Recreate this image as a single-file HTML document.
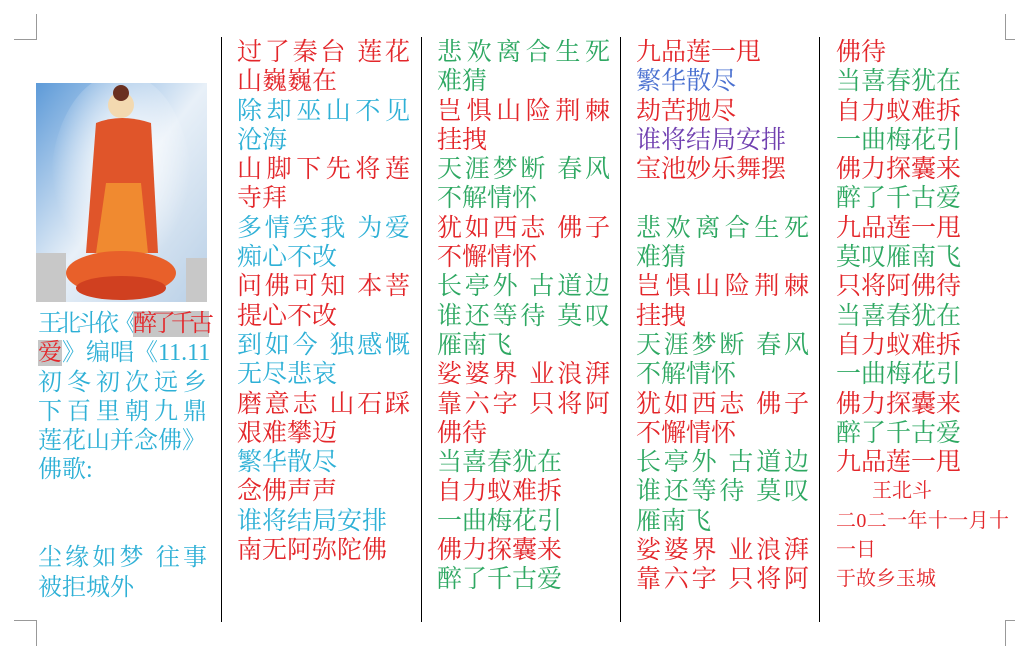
<!DOCTYPE html>
<html><head><meta charset="utf-8"><style>
body{margin:0;width:1015px;height:656px;background:#fff;position:relative;overflow:hidden;font-family:"Liberation Serif","Noto Serif CJK SC",serif;}
.col{position:absolute;top:38px;font-size:25px;line-height:29.3px;}
.col div{white-space:nowrap;height:29.3px;}
.j{text-align-last:justify;}
.r{color:#e3262a}.g{color:#2ea862}.b{color:#2eb0d6}.p{color:#7040b0}
.vl{position:absolute;top:37px;height:585px;width:1px;background:#000;}
.cm{position:absolute;border-color:#999;border-style:solid;width:22px;height:25px;}
</style></head><body>
<div class="cm" style="left:14px;top:14px;border-width:0 1px 1px 0;"></div>
<div class="cm" style="left:14px;top:620px;border-width:1px 1px 0 0;"></div>
<div class="cm" style="left:1005px;top:14px;border-width:0 0 1px 1px;"></div>
<div class="cm" style="left:1005px;top:620px;border-width:1px 0 0 1px;"></div>
<div class="vl" style="left:221px"></div>
<div class="vl" style="left:421px"></div>
<div class="vl" style="left:620px"></div>
<div class="vl" style="left:819px"></div>

<svg style="position:absolute;left:36px;top:83px" width="171" height="219">
<defs><linearGradient id="sk" x1="0" y1="0" x2="1" y2="1"><stop offset="0" stop-color="#5d9ad8"/><stop offset=".5" stop-color="#e8f0f8"/><stop offset="1" stop-color="#b8cfe6"/></linearGradient>
<radialGradient id="gl" cx=".5" cy=".4" r=".5"><stop offset="0" stop-color="#fff"/><stop offset="1" stop-color="#fff" stop-opacity="0"/></radialGradient></defs>
<rect width="171" height="219" fill="url(#sk)"/>
<ellipse cx="85" cy="100" rx="70" ry="110" fill="url(#gl)"/>
<rect x="0" y="170" width="30" height="49" fill="#c8c8c8"/><rect x="150" y="175" width="21" height="44" fill="#c8c8c8"/>
<circle cx="85" cy="22" r="13" fill="#f3d9b0"/><circle cx="85" cy="10" r="8" fill="#6a3020"/>
<path d="M60 40 Q85 30 115 40 L122 170 L50 170 Z" fill="#e0552a"/>
<path d="M70 100 L105 100 L112 170 L60 170 Z" fill="#f08a30"/>
<ellipse cx="85" cy="190" rx="55" ry="22" fill="#e8602a"/>
<ellipse cx="85" cy="205" rx="45" ry="12" fill="#d04020"/>
</svg>

<div class="col b" style="left:38px;top:310px;width:169px;font-size:24px;">
<div style="letter-spacing:-5px">王北斗依《<span class="r" style="background:#c6c6c6">醉了千古</span></div>
<div class="j"><span class="r" style="background:#c6c6c6">爱</span>》编唱《11.11</div>
<div class="j">初冬初次远乡</div>
<div class="j">下百里朝九鼎</div>
<div>莲花山并念佛》</div>
<div>佛歌:</div>
<div></div>
<div></div>
<div class="j">尘缘如梦 往事</div>
<div>被拒城外</div>
</div>

<div class="col" style="left:237px;width:173px;">
<div class="r j">过了秦台 莲花</div>
<div class="r">山巍巍在</div>
<div class="b j">除却巫山不见</div>
<div class="b">沧海</div>
<div class="r j">山脚下先将莲</div>
<div class="r">寺拜</div>
<div class="b j">多情笑我 为爱</div>
<div class="b">痴心不改</div>
<div class="r j">问佛可知 本菩</div>
<div class="r">提心不改</div>
<div class="b j">到如今 独感慨</div>
<div class="b">无尽悲哀</div>
<div class="r j">磨意志 山石踩</div>
<div class="r">艰难攀迈</div>
<div class="b">繁华散尽</div>
<div class="r">念佛声声</div>
<div class="b">谁将结局安排</div>
<div class="r">南无阿弥陀佛</div>
</div>

<div class="col" style="left:437px;width:173px;">
<div class="g j">悲欢离合生死</div>
<div class="g">难猜</div>
<div class="r j">岂惧山险荆棘</div>
<div class="r">挂拽</div>
<div class="g j">天涯梦断 春风</div>
<div class="g">不解情怀</div>
<div class="r j">犹如西志 佛子</div>
<div class="r">不懈情怀</div>
<div class="g j">长亭外 古道边</div>
<div class="g j">谁还等待 莫叹</div>
<div class="g">雁南飞</div>
<div class="r j">娑婆界 业浪湃</div>
<div class="r j">靠六字 只将阿</div>
<div class="r">佛待</div>
<div class="g">当喜春犹在</div>
<div class="r">自力蚁难拆</div>
<div class="g">一曲梅花引</div>
<div class="r">佛力探囊来</div>
<div class="g">醉了千古爱</div>
</div>

<div class="col" style="left:636px;width:173px;">
<div class="r">九品莲一甩</div>
<div style="color:#4a70d0">繁华散尽</div>
<div class="r">劫苦抛尽</div>
<div class="p">谁将结局安排</div>
<div class="r">宝池妙乐舞摆</div>
<div></div>
<div class="g j">悲欢离合生死</div>
<div class="g">难猜</div>
<div class="r j">岂惧山险荆棘</div>
<div class="r">挂拽</div>
<div class="g j">天涯梦断 春风</div>
<div class="g">不解情怀</div>
<div class="r j">犹如西志 佛子</div>
<div class="r">不懈情怀</div>
<div class="g j">长亭外 古道边</div>
<div class="g j">谁还等待 莫叹</div>
<div class="g">雁南飞</div>
<div class="r j">娑婆界 业浪湃</div>
<div class="r j">靠六字 只将阿</div>
</div>

<div class="col" style="left:836px;width:173px;">
<div class="r">佛待</div>
<div class="g">当喜春犹在</div>
<div class="r">自力蚁难拆</div>
<div class="g">一曲梅花引</div>
<div class="r">佛力探囊来</div>
<div class="g">醉了千古爱</div>
<div class="r">九品莲一甩</div>
<div class="g">莫叹雁南飞</div>
<div class="r">只将阿佛待</div>
<div class="g">当喜春犹在</div>
<div class="r">自力蚁难拆</div>
<div class="g">一曲梅花引</div>
<div class="r">佛力探囊来</div>
<div class="g">醉了千古爱</div>
<div class="r">九品莲一甩</div>
<div class="r" style="font-size:20px;padding-left:36px">王北斗</div>
<div class="r j" style="font-size:20px">二0二一年十一月十</div>
<div class="r" style="font-size:20px">一日</div>
<div class="r" style="font-size:20px">于故乡玉城</div>
</div>
</body></html>
